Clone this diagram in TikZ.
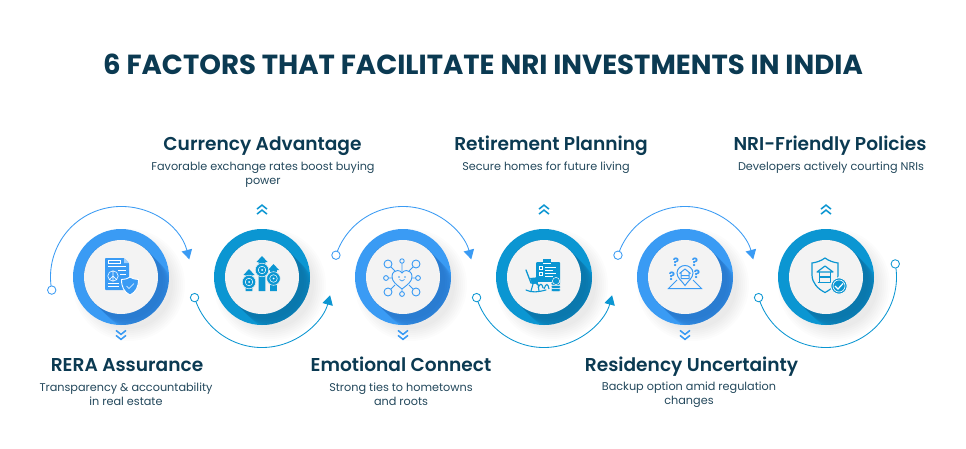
\documentclass[tikz,border=0pt]{standalone}
\usepackage{fontspec}
\setmainfont{Poppins}
\newfontfamily\semif{Poppins SemiBold}
\usetikzlibrary{arrows.meta}
\definecolor{ltb}{HTML}{3A9BF4}
\definecolor{ltbd}{HTML}{2877CC}
\definecolor{tlb}{HTML}{0B96D2}
\definecolor{tlbd}{HTML}{0A74A8}
\definecolor{ink}{HTML}{0B3A52}
\definecolor{inkb}{HTML}{23485C}
\definecolor{disc}{HTML}{F3F3F3}
\tikzset{
  titletext/.style={font=\fontsize{27.6}{34}\selectfont\bfseries,text=ink,inner sep=0pt,anchor=center},
  headtext/.style={font=\semif\fontsize{18.6}{22}\selectfont,text=ink,inner sep=0pt,anchor=base},
  desctext/.style={font=\fontsize{11.25}{14}\selectfont,text=inkb,inner sep=0pt,anchor=center,align=center},
  ringnode/.style={circle,inner sep=0pt,minimum size=96pt,fill=#1},
  discnode/.style={circle,inner sep=0pt,minimum size=74pt,fill=disc},
  curve/.style={draw=#1,line width=0.85pt},
  endmark/.style={circle,inner sep=0pt,minimum size=8.4pt,draw=#1,fill=white,line width=0.85pt},
  tipped/.style={-{Triangle[width=10.5pt,length=9.5pt]}},
  chev/.style={draw=#1,line width=1.5pt,line join=miter},
  qmark/.style={font=\bfseries\fontsize{11.5}{11.5}\selectfont,text=ltb,inner sep=0pt},
}
% #1 name, #2 x, #3 ring colour, #4 dark colour
\newcommand{\stagedisc}[4]{%
  \begin{scope}[shift={(#2,171)}]
    \foreach \r in {44,46,48,50,52,54,56}{\fill[black,opacity=0.012] (8,-8) circle[radius=\r];}
  \end{scope}
  \node[ringnode=#3] (ring#1) at (#2,171) {};
  \begin{scope}
    \clip (#2,171) circle[radius=48];
    \foreach \o in {5,7,9,11,13,15}{\draw[#4,opacity=0.25,line width=74pt,line cap=round] (#2,171) -- ++(\o,-\o);}
  \end{scope}
  \node[discnode] (disc#1) at (#2,171) {};
}
\newcommand{\chevron}[4]{% x, y, dir (+1 up, -1 down), colour
  \draw[chev=#4] ({#1-5},{#2-#3*3.6}) -- (#1,{#2+#3*0.4}) -- ({#1+5},{#2-#3*3.6});
  \draw[chev=#4] ({#1-5},{#2-#3*8.6}) -- (#1,{#2-#3*4.6}) -- ({#1+5},{#2-#3*8.6});
}
\begin{document}
\begin{tikzpicture}[x=1pt,y=1pt]
\useasboundingbox (0,0) rectangle (966,448);
\fill[white] (0,0) rectangle (966,448);

\node[titletext] (title) at (483,384) {6 FACTORS THAT FACILITATE NRI INVESTMENTS IN INDIA};

% discs
\stagedisc{1}{121}{ltb}{ltbd}
\stagedisc{2}{262}{tlb}{tlbd}
\stagedisc{3}{403}{ltb}{ltbd}
\stagedisc{4}{544}{tlb}{tlbd}
\stagedisc{5}{685}{ltb}{ltbd}
\stagedisc{6}{826}{tlb}{tlbd}

% connector end points on circles of radius 70.5 round the discs
\coordinate (p1) at ({121+70.5*cos(190.7)},{171+70.5*sin(190.7)});
\coordinate (p2) at ({262+70.5*cos(197)},{171+70.5*sin(197)});
\coordinate (p3) at ({403+70.5*cos(162)},{171+70.5*sin(162)});
\coordinate (p4) at ({544+70.5*cos(197)},{171+70.5*sin(197)});
\coordinate (p5) at ({685+70.5*cos(162)},{171+70.5*sin(162)});
\coordinate (p6) at ({826+70.5*cos(197)},{171+70.5*sin(197)});
\coordinate (p7) at ({826+70.5*cos(10.7)},{171+70.5*sin(10.7)});

\draw[curve=ltb,tipped] (p1) arc[start angle=190.7,end angle=14.5,radius=70.5];
\draw[curve=tlb,tipped] (p2) arc[start angle=197,end angle=345,radius=70.5];
\draw[curve=ltb,tipped] (p3) arc[start angle=162,end angle=14.5,radius=70.5];
\draw[curve=tlb,tipped] (p4) arc[start angle=197,end angle=345,radius=70.5];
\draw[curve=ltb,tipped] (p5) arc[start angle=162,end angle=14.5,radius=70.5];
\draw[curve=tlb] (p6) arc[start angle=197,end angle=370.7,radius=70.5];

\node[endmark=ltb] (m1) at (p1) {};
\node[endmark=tlb] (m2) at (p2) {};
\node[endmark=ltb] (m3) at (p3) {};
\node[endmark=tlb] (m4) at (p4) {};
\node[endmark=ltb] (m5) at (p5) {};
\node[endmark=tlb] (m6) at (p6) {};
\node[endmark=tlb] (m7) at (p7) {};

% chevrons
\chevron{121}{109}{-1}{ltb}
\chevron{262}{242.5}{1}{tlb}
\chevron{403}{109}{-1}{ltb}
\chevron{544}{242.5}{1}{tlb}
\chevron{685}{109}{-1}{ltb}
\chevron{826}{242.5}{1}{tlb}

% text
\node[headtext] (h1) at (127,76.2) {RERA Assurance};
\node[desctext] (d1) at (126,54) {Transparency \& accountability\\in real estate};
\node[headtext] (h2) at (262.5,298) {Currency Advantage};
\node[desctext] (d2) at (263,273) {Favorable exchange rates boost buying\\power};
\node[headtext] (h3) at (401,76.2) {Emotional Connect};
\node[desctext] (d3) at (401,54) {Strong ties to hometowns\\and roots};
\node[headtext] (h4) at (551,298) {Retirement Planning};
\node[desctext] (d4) at (546,280) {Secure homes for future living};
\node[headtext] (h5) at (691.5,76.2) {Residency Uncertainty};
\node[desctext] (d5) at (689,53) {Backup option amid regulation\\changes};
\node[headtext] (h6) at (830,298) {NRI-Friendly Policies};
\node[desctext] (d6) at (831,280) {Developers actively courting NRIs};

% icon 1: document and shield
\begin{scope}[shift={(121,171)},yscale=-1]
  \fill[ltb,rounded corners=0.8pt] (-16,-19) -- (3,-19) -- (8,-14) -- (8,13) -- (-16,13) -- cycle;
  \fill[white,opacity=.55] (3,-19) -- (3,-14) -- (8,-14) -- cycle;
  \draw[white,line width=.6pt] (-13,-16.5) rectangle (-1,-13.5);
  \draw[white,line width=.6pt] (-13,-10.5) -- (5,-10.5) (-3,-6.5) -- (5,-6.5) (-1,-2.5) -- (5,-2.5) (-13,6) -- (-2,6) (-13,9.5) -- (-2,9.5);
  \draw[white,line width=.6pt] (-8,-1) circle[radius=5.2] (-8,-6.2) -- (-8,4.2) (-8,-1) -- (-11.7,2.7) (-8,-1) -- (-4.3,2.7);
  \fill[ltb,draw=white,line width=.9pt] (9,0) .. controls (12,2) and (15,2.5) .. (17.5,2.5) .. controls (17.5,10) and (15,15) .. (9,18) .. controls (3,15) and (0.5,10) .. (0.5,2.5) .. controls (3,2.5) and (6,2) .. (9,0) -- cycle;
  \draw[white,line width=.7pt] (5.5,9) -- (8,11.5) -- (13,6.5);
\end{scope}

% icon 2: rising arrows with coins
\begin{scope}[shift={(262,171)},yscale=-1]
  \fill[tlb] (-3.3,14) -- (-3.3,-15) -- (-5.5,-15) -- (0,-21) -- (5.5,-15) -- (3.3,-15) -- (3.3,14) -- cycle;
  \fill[tlb] (-16.3,14) -- (-16.3,-2) -- (-18.5,-2) -- (-13,-8) -- (-7.5,-2) -- (-9.7,-2) -- (-9.7,14) -- cycle;
  \fill[tlb] (8.2,14) -- (8.2,-7) -- (6,-7) -- (11.5,-13) -- (17,-7) -- (14.8,-7) -- (14.8,14) -- cycle;
  \foreach \cx/\cy in {0/-7,-13/5,11.5/1.5}{
    \fill[tlb,draw=disc,line width=.5pt] (\cx,\cy) circle[radius=6.8];
    \draw[white,line width=.5pt] (\cx,\cy) circle[radius=3.8];
    \fill[white] (\cx,\cy) circle[radius=1];
  }
\end{scope}

% icon 3: heart network
\begin{scope}[shift={(403,171)},yscale=-1,draw=ltb,line width=.9pt]
  \draw (-15,-13) -- (-8,-6) (13,-13) -- (6,-6) (-15,15) -- (-8,8) (13,15) -- (6,8) (-17,1) -- (-10,1) (15,1) -- (9,1) (-1,-16) -- (-1,-5) (-1,17) -- (-1,12);
  \draw[fill=disc] (-1,12) .. controls (-6,8) and (-11,5) .. (-11,-0.5) .. controls (-11,-4.5) and (-8,-6.5) .. (-5.5,-6.5) .. controls (-3.5,-6.5) and (-2,-5.5) .. (-1,-4) .. controls (0,-5.5) and (1.5,-6.5) .. (3.5,-6.5) .. controls (6,-6.5) and (9,-4.5) .. (9,-0.5) .. controls (9,5) and (4,8) .. (-1,12) -- cycle;
  \foreach \cx/\cy/\rr in {-15/-13/4,13/-13/4,-15/15/4,13/15/4,-17/1/2.4,15/1/2.4,-1/17/2.4,-1/-16/2.2}{
    \draw[fill=disc] (\cx,\cy) circle[radius=\rr];
  }
  \fill[ltb] (-4,0) circle[radius=.8] (2,0) circle[radius=.8];
  \draw[line width=.7pt] (-3.5,2.5) .. controls (-2.5,4.5) and (0.5,4.5) .. (1.5,2.5);
\end{scope}

% icon 4: clipboard, rocking chair and coins
\begin{scope}[shift={(544,171)},yscale=-1]
  \fill[tlb,rounded corners=1pt] (-8,-15) rectangle (16,8);
  \fill[tlb] (-1,-18) rectangle (7,-13);
  \draw[white,line width=.6pt] (-1,-14) -- (7,-14);
  \draw[white,line width=.6pt] (-5,-11) rectangle (-2,-8) (-5,-5) rectangle (-2,-2);
  \draw[white,line width=.8pt] (1,-10) -- (12,-10) (1,-7) -- (9,-7) (1,-4) -- (12,-4) (1,-1) -- (9,-1);
  \draw[tlb,line width=1.3pt,line cap=round] (-18,-7) -- (-13,6) -- (-5,6);
  \fill[tlb] (-14,1) -- (-4,0) -- (-3,6) -- (-12,7) -- cycle;
  \draw[tlb,line width=1.1pt,line cap=round] (-18,13) .. controls (-12,16) and (-6,15) .. (2,13);
  \fill[disc] (-6,5) rectangle (8,11);
  \draw[tlb,line width=1.1pt] (-6,11) .. controls (-4,6) and (-2,6) .. (-1,11) (0,12) .. controls (2,6) and (4,6) .. (5,12) (-11,7) -- (-13,14) (-6,7) -- (-5,14);
  \foreach \yy in {13,9.8,6.6}{\fill[tlb,draw=disc,line width=.5pt,rounded corners=1.2pt] (7,\yy-1.5) rectangle (16.5,\yy+1.5);}
  \fill[tlb,draw=disc,line width=.5pt] (12,4) circle[radius=3.6];
\end{scope}

% icon 5: map pin with question marks
\begin{scope}[shift={(685,171)},yscale=-1,draw=ltb,line width=1pt]
  \draw (-8,3) -- (-16.5,11.5) -- (16.5,11.5) -- (8,3);
  \draw[fill=disc] (0,8.5) .. controls (-3,4) and (-8,1) .. (-8,-4) .. controls (-8,-8.5) and (-4,-11.5) .. (0,-11.5) .. controls (4,-11.5) and (8,-8.5) .. (8,-4) .. controls (8,1) and (3,4) .. (0,8.5) -- cycle;
  \draw[line join=round] (-5.5,-3.5) -- (0,-8) -- (5.5,-3.5) (-4,-4.5) -- (-4,1.5) -- (4,1.5) -- (4,-4.5) (-4,-1.5) -- (4,-1.5);
\end{scope}
\node[qmark] (q1) at (676,186) {?};
\node[qmark] (q2) at (695,186) {?};
\node[qmark] (q3) at (672,172) {?};
\node[qmark] (q4) at (697,174) {?};

% icon 6: shield with house and check badge
\begin{scope}[shift={(826,171)},yscale=-1,draw=tlb,line width=1.2pt]
  \draw[fill=disc] (-1,-19) .. controls (-5,-16) and (-10,-14.5) .. (-14,-14) -- (-14,-2) .. controls (-14,6) and (-8,12) .. (-1,15.5) .. controls (6,12) and (12,6) .. (12,-2) -- (12,-14) .. controls (8,-14.5) and (3,-16) .. (-1,-19) -- cycle;
  \draw[line join=round] (-9,-5) -- (-1,-11) -- (7,-5) -- cycle;
  \draw (-6.5,-5) -- (-6.5,5) (4.5,-5) -- (4.5,5) (-8.5,5.5) -- (6.5,5.5) (-6.5,0) -- (4.5,0);
  \fill[tlb,draw=disc,line width=1.2pt] (13,9) circle[radius=8.3];
  \draw[white,line width=1.2pt] (9,9) -- (12,12) -- (17,6.5);
  \draw[white,line width=.6pt] (13,9) circle[radius=6];
\end{scope}
\end{tikzpicture}
\end{document}
